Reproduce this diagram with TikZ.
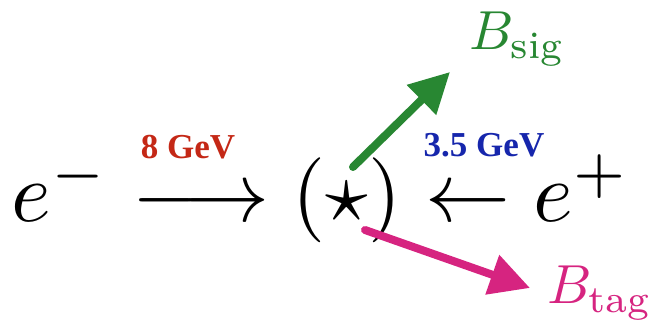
\documentclass[tikz,border=0pt]{standalone}
\usepackage{fontspec}
\newfontfamily\timesfont{Liberation Serif}
\usetikzlibrary{arrows.meta}
\definecolor{gevred}{RGB}{196,40,22}
\definecolor{gevblue}{RGB}{22,38,172}
\definecolor{siggreen}{RGB}{40,135,50}
\definecolor{tagpink}{RGB}{214,36,128}
\tikzset{
  gev/.style={inner sep=0pt, anchor=base, font=\timesfont\bfseries\fontsize{35}{40}\selectfont},
  blabel/.style={inner sep=0pt, anchor=base west, scale=5.5},
  crayon/.style={line width=8pt, line cap=round, -{Triangle[length=40pt,width=40pt]}},
}
\begin{document}
\begin{tikzpicture}[x=1pt,y=1pt]
\useasboundingbox (0,0) rectangle (654,328);
\node[inner sep=0pt, anchor=base west, scale=8.5] (eq) at (10,106)
  {$e^-\longrightarrow(\star)\leftarrow e^+$};
\node[gev, text=gevred] (g8) at (188,169) {8 GeV};
\node[gev, text=gevblue] (g35) at (484,171) {3.5 GeV};
\node[blabel, text=siggreen] (bsig) at (468,278) {$B_{\mathrm{sig}}$};
\node[blabel, text=tagpink] (btag) at (546,24) {$B_{\mathrm{tag}}$};
\coordinate (gs) at (353,161);
\coordinate (gt) at (450,256);
\coordinate (ms) at (365,98);
\coordinate (mt) at (530,40);
\draw[crayon, siggreen] (gs) -- (gt);
\draw[crayon, tagpink] (ms) -- (mt);
\end{tikzpicture}
\end{document}
